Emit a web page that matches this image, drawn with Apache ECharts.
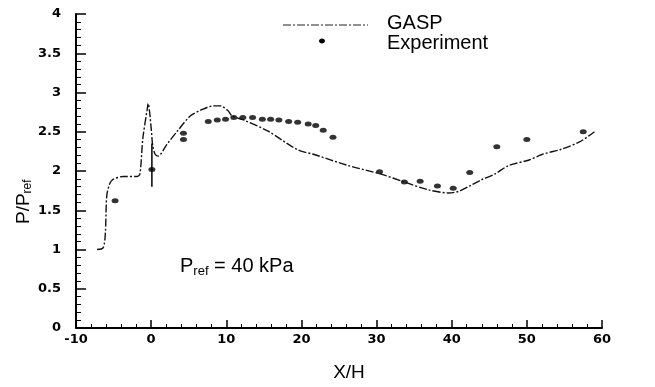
<!DOCTYPE html>
<html>
<head>
<meta charset="utf-8">
<script src="https://cdn.jsdelivr.net/npm/echarts@6/dist/echarts.min.js"></script>
<style>
  html, body { margin: 0; padding: 0; background: #fff; }
  #chart { width: 655px; height: 387px; }
</style>
</head>
<body>
<div id="chart"></div>
<script>
// GASP computed pressure, x/H and P/Pref
const gaspX = [-7.2, -6.4, -6.1, -5.9, -5.5, -5.1, -3.7, -1.9, -1.5, -1.1, -0.5, -0.4, 0.0, 0.2, 0.5, 0.9, 2.1, 3.5, 5.2, 6.5, 8.3, 9.2, 10.2, 10.8, 12.3, 15.5, 19.5, 21.7, 26.2, 30.6, 33.7, 36.9, 39.6, 40.9, 42.6, 44.0, 45.7, 47.6, 50.3, 52.0, 54.7, 57.0, 58.3, 59.0];
const gaspY = [1.0, 1.02, 1.2, 1.69, 1.84, 1.89, 1.93, 1.93, 1.96, 2.42, 2.80, 2.86, 2.55, 2.33, 2.22, 2.19, 2.34, 2.51, 2.70, 2.77, 2.83, 2.83, 2.77, 2.70, 2.65, 2.51, 2.27, 2.21, 2.07, 1.96, 1.86, 1.76, 1.72, 1.74, 1.82, 1.89, 1.96, 2.07, 2.14, 2.21, 2.28, 2.37, 2.45, 2.50];

// experiment
const expX = [-4.8, 0.1, 4.3, 4.3, 7.6, 8.8, 9.9, 11.0, 12.2, 13.5, 14.8, 15.9, 17.0, 18.3, 19.5, 20.9, 21.9, 22.9, 24.2, 30.4, 33.7, 35.8, 38.1, 40.2, 42.4, 46.0, 50.0, 57.5];
const expY = [1.62, 2.02, 2.48, 2.40, 2.63, 2.65, 2.66, 2.68, 2.68, 2.68, 2.66, 2.66, 2.65, 2.63, 2.62, 2.60, 2.58, 2.52, 2.43, 1.99, 1.86, 1.87, 1.81, 1.78, 1.98, 2.31, 2.40, 2.50];

// vertical bar through the experiment point at x/H = 0
const barX = [0.1, 0.1];
const barY = [1.8, 2.35];

const xTicks = [-10, 0, 10, 20, 30, 40, 50, 60];
const yTicks = [0, 0.5, 1, 1.5, 2, 2.5, 3, 3.5, 4];

const zip = (a, b) => a.map((v, i) => [v, b[i]]);

const chart = echarts.init(document.getElementById('chart'));
const axisFont = { fontFamily: 'DejaVu Sans', fontWeight: 'bold', fontSize: 13, color: '#000' };
const txt = { fontFamily: 'Liberation Sans', fill: '#000' };

chart.setOption({
  animation: false,
  grid: { left: 76, right: 53, top: 14, bottom: 54 },
  xAxis: {
    type: 'value', min: -10, max: 60, interval: 10,
    name: 'X/H', nameLocation: 'middle', nameGap: 35,
    nameTextStyle: { fontFamily: 'Liberation Sans', fontSize: 19, color: '#000', padding: [0, 0, 0, 20] },
    axisLine: { onZero: false, lineStyle: { color: '#000', width: 2 } },
    axisTick: { inside: true, length: 8, lineStyle: { color: '#000', width: 1.5 } },
    minorTick: { show: true, splitNumber: 5, length: 4, lineStyle: { color: '#000' } },
    axisLabel: Object.assign({ margin: 5, formatter: v => xTicks.includes(v) ? String(v) : '' }, axisFont),
    splitLine: { show: false }
  },
  yAxis: {
    type: 'value', min: 0, max: 4, interval: 0.5,
    axisLine: { onZero: false, lineStyle: { color: '#000', width: 2 } },
    axisTick: { inside: true, length: 10, lineStyle: { color: '#000', width: 1.5 } },
    minorTick: { show: true, splitNumber: 5, length: 5, lineStyle: { color: '#000' } },
    axisLabel: Object.assign({ margin: 15, formatter: v => yTicks.includes(v) ? String(v) : '' }, axisFont),
    splitLine: { show: false }
  },
  series: [
    {
      name: 'GASP', type: 'line', data: zip(gaspX, gaspY),
      showSymbol: false, smooth: 0.3,
      lineStyle: { color: '#111', width: 1.4, type: [8, 2, 2, 2] }
    },
    {
      name: 'Experiment', type: 'scatter', data: zip(expX, expY),
      symbol: 'circle', symbolSize: [7, 5],
      itemStyle: { color: '#000' }
    },
    {
      name: 'bar', type: 'line', data: zip(barX, barY),
      showSymbol: false, silent: true,
      lineStyle: { color: '#000', width: 1.5 }
    }
  ],
  graphic: [
    // legend
    { type: 'line', shape: { x1: 283, y1: 25, x2: 368, y2: 25 },
      style: { stroke: '#222', lineWidth: 1.2, lineDash: [8, 2, 2, 2] } },
    { type: 'text', left: 387, top: 13, style: Object.assign({ text: 'GASP', fontSize: 20 }, txt) },
    { type: 'ellipse', shape: { cx: 322, cy: 41, rx: 3, ry: 2.5 }, style: { fill: '#000' } },
    { type: 'text', left: 387, top: 33, style: Object.assign({ text: 'Experiment', fontSize: 20 }, txt) },
    // y axis name
    {
      type: 'text', x: 13, y: 224, rotation: Math.PI / 2,
      style: {
        rich: {
          b: { fontFamily: 'Liberation Sans', fontSize: 19, fill: '#000' },
          s: { fontFamily: 'Liberation Sans', fontSize: 12, fill: '#000', padding: [9, 0, 0, 0] }
        },
        text: '{b|P/P}{s|ref}'
      }
    },
    // reference pressure note
    {
      type: 'text', left: 180, top: 256,
      style: {
        rich: {
          b: { fontFamily: 'Liberation Sans', fontSize: 20, fill: '#000' },
          s: { fontFamily: 'Liberation Sans', fontSize: 13, fill: '#000', padding: [10, 0, 0, 0] }
        },
        text: '{b|P}{s|ref}{b| = 40 kPa}'
      }
    }
  ]
});
</script>
</body>
</html>
